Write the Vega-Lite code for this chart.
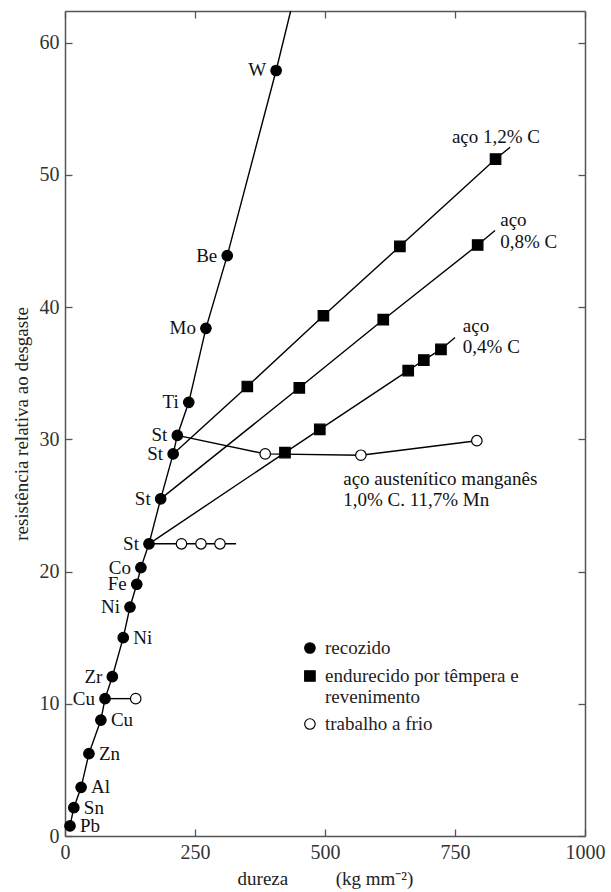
{
  "$schema": "https://vega.github.io/schema/vega-lite/v6.json",
  "autosize": {"type": "none"},
  "width": 520,
  "height": 825,
  "padding": {"left": 65, "top": 11, "right": 26, "bottom": 56},
  "background": "white",
  "config": {
    "view": {"stroke": null},
    "font": "Liberation Serif",
    "axis": {
      "domainColor": "#555",
      "domainWidth": 1.5,
      "tickColor": "#555",
      "tickWidth": 1.3,
      "grid": false,
      "labelFont": "Liberation Serif",
      "labelFontSize": 20,
      "labelColor": "#333",
      "titleFont": "Liberation Serif",
      "titleFontSize": 19,
      "titleFontWeight": "normal",
      "titleColor": "#222"
    }
  },
  "datasets": {
    "linhas": [
      {"serie": "recozido", "x": 9.6, "y": 0.76},
      {"serie": "recozido", "x": 17, "y": 2.14},
      {"serie": "recozido", "x": 31, "y": 3.68},
      {"serie": "recozido", "x": 46, "y": 6.23},
      {"serie": "recozido", "x": 69, "y": 8.77},
      {"serie": "recozido", "x": 77, "y": 10.39},
      {"serie": "recozido", "x": 91, "y": 12.05},
      {"serie": "recozido", "x": 112, "y": 15.0},
      {"serie": "recozido", "x": 125, "y": 17.32},
      {"serie": "recozido", "x": 138, "y": 19.04},
      {"serie": "recozido", "x": 146, "y": 20.3},
      {"serie": "recozido", "x": 161.5, "y": 22.1},
      {"serie": "recozido", "x": 184, "y": 25.5},
      {"serie": "recozido", "x": 208, "y": 28.9},
      {"serie": "recozido", "x": 216, "y": 30.3},
      {"serie": "recozido", "x": 238, "y": 32.8},
      {"serie": "recozido", "x": 271, "y": 38.4},
      {"serie": "recozido", "x": 312, "y": 43.9},
      {"serie": "recozido", "x": 406, "y": 57.9},
      {"serie": "recozido", "x": 434, "y": 62.4},
      {"serie": "aço 1,2% C", "x": 208, "y": 28.9},
      {"serie": "aço 1,2% C", "x": 350.6, "y": 34.0},
      {"serie": "aço 1,2% C", "x": 497, "y": 39.35},
      {"serie": "aço 1,2% C", "x": 644, "y": 44.6},
      {"serie": "aço 1,2% C", "x": 828, "y": 51.2},
      {"serie": "aço 1,2% C", "x": 856, "y": 52.1},
      {"serie": "aço 0,8% C", "x": 184, "y": 25.5},
      {"serie": "aço 0,8% C", "x": 450.6, "y": 33.9},
      {"serie": "aço 0,8% C", "x": 612, "y": 39.05},
      {"serie": "aço 0,8% C", "x": 793.6, "y": 44.7},
      {"serie": "aço 0,8% C", "x": 827, "y": 45.8},
      {"serie": "aço 0,4% C", "x": 161.5, "y": 22.1},
      {"serie": "aço 0,4% C", "x": 423, "y": 29.0},
      {"serie": "aço 0,4% C", "x": 490, "y": 30.75},
      {"serie": "aço 0,4% C", "x": 660, "y": 35.2},
      {"serie": "aço 0,4% C", "x": 690, "y": 36.0},
      {"serie": "aço 0,4% C", "x": 723, "y": 36.8},
      {"serie": "aço 0,4% C", "x": 750, "y": 37.7},
      {"serie": "aço austenítico manganês", "x": 216, "y": 30.3},
      {"serie": "aço austenítico manganês", "x": 385, "y": 28.9},
      {"serie": "aço austenítico manganês", "x": 569, "y": 28.8},
      {"serie": "aço austenítico manganês", "x": 792, "y": 29.9},
      {"serie": "St trabalhado a frio", "x": 161.5, "y": 22.1},
      {"serie": "St trabalhado a frio", "x": 224, "y": 22.1},
      {"serie": "St trabalhado a frio", "x": 261.5, "y": 22.1},
      {"serie": "St trabalhado a frio", "x": 298, "y": 22.1},
      {"serie": "St trabalhado a frio", "x": 329, "y": 22.1},
      {"serie": "Cu trabalhado a frio", "x": 77, "y": 10.39},
      {"serie": "Cu trabalhado a frio", "x": 136, "y": 10.39}
    ],
    "pontos": [
      {"tipo": "recozido", "x": 9.6, "y": 0.76},
      {"tipo": "recozido", "x": 17, "y": 2.14},
      {"tipo": "recozido", "x": 31, "y": 3.68},
      {"tipo": "recozido", "x": 46, "y": 6.23},
      {"tipo": "recozido", "x": 69, "y": 8.77},
      {"tipo": "recozido", "x": 77, "y": 10.39},
      {"tipo": "recozido", "x": 91, "y": 12.05},
      {"tipo": "recozido", "x": 112, "y": 15.0},
      {"tipo": "recozido", "x": 125, "y": 17.32},
      {"tipo": "recozido", "x": 138, "y": 19.04},
      {"tipo": "recozido", "x": 146, "y": 20.3},
      {"tipo": "recozido", "x": 161.5, "y": 22.1},
      {"tipo": "recozido", "x": 184, "y": 25.5},
      {"tipo": "recozido", "x": 208, "y": 28.9},
      {"tipo": "recozido", "x": 216, "y": 30.3},
      {"tipo": "recozido", "x": 238, "y": 32.8},
      {"tipo": "recozido", "x": 271, "y": 38.4},
      {"tipo": "recozido", "x": 312, "y": 43.9},
      {"tipo": "recozido", "x": 406, "y": 57.9},
      {"tipo": "endurecido por têmpera e revenimento", "x": 350.6, "y": 34.0},
      {"tipo": "endurecido por têmpera e revenimento", "x": 497, "y": 39.35},
      {"tipo": "endurecido por têmpera e revenimento", "x": 644, "y": 44.6},
      {"tipo": "endurecido por têmpera e revenimento", "x": 828, "y": 51.2},
      {"tipo": "endurecido por têmpera e revenimento", "x": 450.6, "y": 33.9},
      {"tipo": "endurecido por têmpera e revenimento", "x": 612, "y": 39.05},
      {"tipo": "endurecido por têmpera e revenimento", "x": 793.6, "y": 44.7},
      {"tipo": "endurecido por têmpera e revenimento", "x": 423, "y": 29.0},
      {"tipo": "endurecido por têmpera e revenimento", "x": 490, "y": 30.75},
      {"tipo": "endurecido por têmpera e revenimento", "x": 660, "y": 35.2},
      {"tipo": "endurecido por têmpera e revenimento", "x": 690, "y": 36.0},
      {"tipo": "endurecido por têmpera e revenimento", "x": 723, "y": 36.8},
      {"tipo": "trabalho a frio", "x": 136, "y": 10.39},
      {"tipo": "trabalho a frio", "x": 224, "y": 22.1},
      {"tipo": "trabalho a frio", "x": 261.5, "y": 22.1},
      {"tipo": "trabalho a frio", "x": 298, "y": 22.1},
      {"tipo": "trabalho a frio", "x": 385, "y": 28.9},
      {"tipo": "trabalho a frio", "x": 569, "y": 28.8},
      {"tipo": "trabalho a frio", "x": 792, "y": 29.9}
    ],
    "legenda_simbolos": [
      {"tipo": "recozido", "x": 471, "y": 14.22},
      {"tipo": "endurecido por têmpera e revenimento", "x": 471, "y": 12.1},
      {"tipo": "trabalho a frio", "x": 471, "y": 8.47}
    ],
    "legenda_textos": [
      {"texto": "recozido", "x": 500, "y": 14.22},
      {"texto": "endurecido por têmpera e", "x": 500, "y": 12.1},
      {"texto": "revenimento", "x": 500, "y": 10.51},
      {"texto": "trabalho a frio", "x": 500, "y": 8.47}
    ],
    "rotulos_esquerda": [
      {"rotulo": "W", "x": 406, "y": 57.9},
      {"rotulo": "Be", "x": 312, "y": 43.9},
      {"rotulo": "Mo", "x": 271, "y": 38.4},
      {"rotulo": "Ti", "x": 238, "y": 32.8},
      {"rotulo": "St", "x": 216, "y": 30.3},
      {"rotulo": "St", "x": 208, "y": 28.9},
      {"rotulo": "St", "x": 184, "y": 25.5},
      {"rotulo": "St", "x": 161.5, "y": 22.1},
      {"rotulo": "Co", "x": 146, "y": 20.3},
      {"rotulo": "Fe", "x": 138, "y": 19.04},
      {"rotulo": "Ni", "x": 125, "y": 17.32},
      {"rotulo": "Zr", "x": 91, "y": 12.05},
      {"rotulo": "Cu", "x": 77, "y": 10.39}
    ],
    "rotulos_direita": [
      {"rotulo": "Ni", "x": 112, "y": 15.0},
      {"rotulo": "Cu", "x": 69, "y": 8.77},
      {"rotulo": "Zn", "x": 46, "y": 6.23},
      {"rotulo": "Al", "x": 31, "y": 3.68},
      {"rotulo": "Sn", "x": 17, "y": 2.14},
      {"rotulo": "Pb", "x": 9.6, "y": 0.76}
    ],
    "anotacoes": [
      {"texto": "aço 1,2% C", "x": 744, "y": 52.9},
      {"texto": "aço", "x": 837, "y": 46.6},
      {"texto": "0,8% C", "x": 837, "y": 44.9},
      {"texto": "aço", "x": 765, "y": 38.6},
      {"texto": "0,4% C", "x": 765, "y": 37.0},
      {"texto": "aço austenítico manganês", "x": 535, "y": 27.0},
      {"texto": "1,0% C. 11,7% Mn", "x": 535, "y": 25.4}
    ]
  },
  "layer": [
    {
      "data": {"name": "linhas"},
      "mark": {"type": "line", "color": "black", "strokeWidth": 1.4},
      "encoding": {
        "x": {
          "field": "x", "type": "quantitative",
          "scale": {"domain": [0, 1000], "nice": false},
          "axis": {"orient": "bottom", "values": [0, 250, 500, 750, 1000], "format": "d", "tickSize": -7, "labelPadding": 13, "title": "dureza\u00a0\u00a0\u00a0\u00a0\u00a0\u00a0\u00a0\u00a0\u00a0\u00a0(kg mm⁻²)", "titlePadding": 7, "labelFlush": false}
        },
        "y": {
          "field": "y", "type": "quantitative",
          "scale": {"domain": [0, 62.4], "nice": false},
          "axis": {"orient": "left", "values": [0, 10, 20, 30, 40, 50, 60], "tickSize": -7, "labelPadding": 13, "title": "resistência relativa ao desgaste", "titlePadding": 8}
        },
        "detail": {"field": "serie"}
      }
    },
    {
      "data": {"name": "pontos"},
      "mark": {"type": "point", "filled": true, "opacity": 1, "size": 110, "stroke": "black", "strokeWidth": 1.2},
      "encoding": {
        "x": {
          "field": "x", "type": "quantitative",
          "axis": {"orient": "top", "values": [0, 250, 500, 750, 1000], "tickSize": -7, "labels": false, "title": null}
        },
        "y": {
          "field": "y", "type": "quantitative",
          "axis": {"orient": "right", "values": [0, 10, 20, 30, 40, 50, 60], "tickSize": -7, "labels": false, "title": null}
        },
        "shape": {
          "field": "tipo", "type": "nominal",
          "scale": {"domain": ["recozido", "endurecido por têmpera e revenimento", "trabalho a frio"], "range": ["circle", "square", "circle"]},
          "legend": null
        },
        "fill": {
          "field": "tipo", "type": "nominal",
          "scale": {"domain": ["recozido", "endurecido por têmpera e revenimento", "trabalho a frio"], "range": ["black", "black", "white"]},
          "legend": null
        }
      }
    },
    {
      "data": {"name": "legenda_simbolos"},
      "mark": {"type": "point", "filled": true, "opacity": 1, "size": 110, "stroke": "black", "strokeWidth": 1.2},
      "encoding": {
        "x": {"field": "x", "type": "quantitative", "axis": null},
        "y": {"field": "y", "type": "quantitative", "axis": null},
        "shape": {"field": "tipo", "type": "nominal", "legend": null},
        "fill": {"field": "tipo", "type": "nominal", "legend": null}
      }
    },
    {
      "data": {"name": "legenda_textos"},
      "mark": {"type": "text", "align": "left", "baseline": "middle", "fontSize": 19, "font": "Liberation Serif", "color": "#222"},
      "encoding": {
        "x": {"field": "x", "type": "quantitative", "axis": null},
        "y": {"field": "y", "type": "quantitative", "axis": null},
        "text": {"field": "texto"}
      }
    },
    {
      "data": {"name": "rotulos_esquerda"},
      "mark": {"type": "text", "align": "right", "baseline": "middle", "dx": -10, "fontSize": 19, "font": "Liberation Serif", "color": "#111"},
      "encoding": {
        "x": {"field": "x", "type": "quantitative", "axis": null},
        "y": {"field": "y", "type": "quantitative", "axis": null},
        "text": {"field": "rotulo"}
      }
    },
    {
      "data": {"name": "rotulos_direita"},
      "mark": {"type": "text", "align": "left", "baseline": "middle", "dx": 10, "fontSize": 19, "font": "Liberation Serif", "color": "#111"},
      "encoding": {
        "x": {"field": "x", "type": "quantitative", "axis": null},
        "y": {"field": "y", "type": "quantitative", "axis": null},
        "text": {"field": "rotulo"}
      }
    },
    {
      "data": {"name": "anotacoes"},
      "mark": {"type": "text", "align": "left", "baseline": "middle", "fontSize": 19, "font": "Liberation Serif", "color": "#111"},
      "encoding": {
        "x": {"field": "x", "type": "quantitative", "axis": null},
        "y": {"field": "y", "type": "quantitative", "axis": null},
        "text": {"field": "texto"}
      }
    }
  ],
  "resolve": {"axis": {"x": "independent", "y": "independent"}}
}
